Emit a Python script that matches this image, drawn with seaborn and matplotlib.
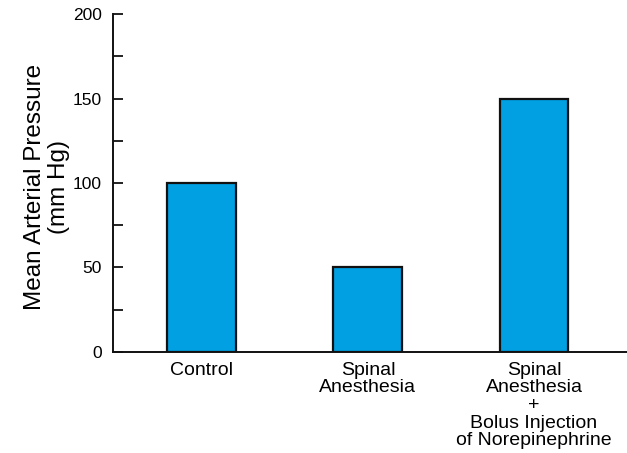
import numpy as np
import pandas as pd
import matplotlib
matplotlib.use("Agg")
import matplotlib.pyplot as plt
import seaborn as sns
from matplotlib.ticker import MultipleLocator

# dữ liệu
conditions = ["Control", "Spinal\nAnesthesia",
              "Spinal\nAnesthesia\n+\nBolus Injection\nof Norepinephrine"]
pressure = [100, 50, 150]

df = pd.DataFrame({"cond": conditions, "map": pressure})

sns.set_style("ticks")
plt.rcParams['font.family'] = ['Liberation Sans', 'DejaVu Sans']
plt.rcParams['text.color'] = 'black'
plt.rcParams['axes.labelcolor'] = 'black'
plt.rcParams['xtick.color'] = 'black'
plt.rcParams['ytick.color'] = 'black'

fig = plt.figure(figsize=(6.27, 4.53), dpi=100)
ax = fig.add_axes([0.180, 0.223, 0.82, 0.746])

sns.barplot(data=df, x="cond", y="map", color="#00a0e2", saturation=1,
            width=0.415, edgecolor="#111111", linewidth=1.6, ax=ax)

ax.set_ylim(0, 200)
ax.set_xlim(-0.536, 2.56)
ax.yaxis.set_major_locator(MultipleLocator(50))
ax.yaxis.set_minor_locator(MultipleLocator(25))
ax.tick_params(axis='y', which='both', direction='in', length=7, width=1.3,
               labelsize=12.5, pad=8, color="#111111")
ax.tick_params(axis='x', length=0, labelsize=14, pad=7)
for lab in ax.get_xticklabels():
    lab.set_linespacing(1.05)

ax.set_xlabel("")
ax.set_ylabel("Mean Arterial Pressure\n(mm Hg)", fontsize=17.5, linespacing=1.1)
ax.yaxis.set_label_coords(-0.084, 0.488)
sns.despine(ax=ax)
for s in ["left", "bottom"]:
    ax.spines[s].set_linewidth(1.4)
    ax.spines[s].set_color("#111111")

fig.savefig("out.png", dpi=100)
